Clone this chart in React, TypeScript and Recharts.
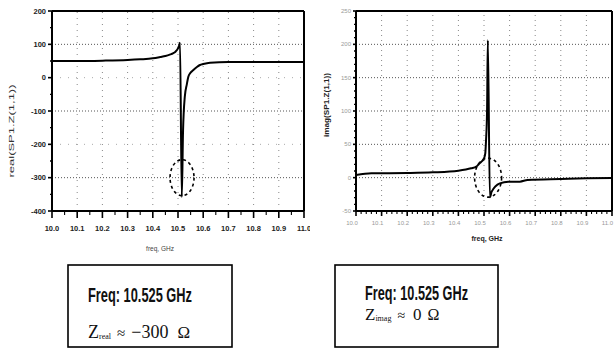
import React from "react";
import { LineChart, Line, XAxis, YAxis, ReferenceLine, ReferenceDot } from "recharts";

// ── Left panel: real(Z) vs frequency ───────────────────────────────────────

const leftFreq = [
  10.0, 10.1, 10.2, 10.3, 10.35, 10.4, 10.43, 10.45, 10.47, 10.48, 10.49, 10.5, 10.505, 10.508,
  10.515, 10.52, 10.527, 10.535, 10.541, 10.55, 10.561, 10.575, 10.587, 10.6, 10.627, 10.7, 10.8,
  10.9, 11.0,
];
const leftReal = [
  50, 50, 51, 53, 55, 58, 62, 65, 70, 73, 78, 88, 97, 105,
  -358, -160, -57, -20, 3, 15, 23, 32, 38, 41, 45, 47, 47,
  47, 47,
];
const leftXMajor = [10.0, 10.1, 10.2, 10.3, 10.4, 10.5, 10.6, 10.7, 10.8, 10.9, 11.0];
const leftYMajor = [-400, -300, -200, -100, 0, 100, 200];

// ── Right panel: imag(Z) vs frequency ──────────────────────────────────────

const rightFreq = [
  10.0, 10.06, 10.2, 10.3, 10.4, 10.45, 10.47, 10.48, 10.49, 10.5, 10.505, 10.508, 10.512, 10.515,
  10.523, 10.53, 10.562, 10.595, 10.64, 10.67, 10.8, 10.9, 11.0,
];
const rightImag = [
  4, 6.5, 7, 8, 10.5, 14, 16.5, 20.5, 24, 29, 36.5, 56.5, 101.5, 206,
  -29.5, -21, -8.5, -6, -6, -3.5, -2, -1, -0.5,
];
const rightXMajor = leftXMajor;
const rightYMajor = [-50, 0, 50, 100, 150, 200, 250];

// ── Marker at the resonance (10.525 GHz) ───────────────────────────────────

const markerFreq = 10.516;
const leftMarkerValue = -300;
const rightMarkerValue = 0;

const leftData = leftFreq.map((f, i) => ({ f, v: leftReal[i] }));
const rightData = rightFreq.map((f, i) => ({ f, v: rightImag[i] }));

// minor tick positions between the labelled ones
const steps = (from: number, to: number, step: number) => {
  const out: number[] = [];
  const n = Math.round((to - from) / step);
  for (let i = 0; i <= n; i++) out.push(+(from + i * step).toFixed(4));
  return out;
};
const isMajor = (majors: number[], v: number) => majors.some((m) => Math.abs(m - v) < 1e-6);

const SANS = "'Liberation Sans', Arial, sans-serif";
const SERIF = "'Liberation Serif', 'Times New Roman', serif";

function makeXTick(
  majors: number[],
  majorLen: number,
  minorLen: number,
  labelY: number,
  labelDx: number,
  color: string,
  size: number,
  weight: string
) {
  return (props: any) => {
    const { x, y, payload } = props;
    const v = payload.value;
    const major = isMajor(majors, v);
    const last = Math.abs(v - majors[majors.length - 1]) < 1e-6;
    return (
      <g>
        <line x1={x} x2={x} y1={y} y2={y + (major ? majorLen : minorLen)} stroke="#000" strokeWidth={major ? 1.6 : 1.1} />
        {major && (
          <text
            x={last && labelDx < 0 ? x + 1 : x + labelDx}
            y={y + labelY}
            textAnchor={last && labelDx < 0 ? "end" : "middle"}
            fontSize={size}
            fontFamily={SANS}
            fontWeight={weight}
            fill={color}
          >
            {v.toFixed(1)}
          </text>
        )}
      </g>
    );
  };
}

function makeYTick(majors: number[], majorLen: number, minorLen: number, color: string, size: number, weight: string) {
  return (props: any) => {
    const { x, y, payload } = props;
    const v = payload.value;
    const major = isMajor(majors, v);
    return (
      <g>
        <line x1={x - (major ? majorLen : minorLen)} x2={x} y1={y} y2={y} stroke="#000" strokeWidth={major ? 1.6 : 1.4} />
        {major && (
          <text x={x - majorLen - 2} y={y + size * 0.35} textAnchor="end" fontSize={size} fontFamily={SANS} fontWeight={weight} fill={color}>
            {v}
          </text>
        )}
      </g>
    );
  };
}

const dashedEllipse = (rx: number, ry: number) => (props: any) => (
  <ellipse cx={props.cx} cy={props.cy} rx={rx} ry={ry} fill="none" stroke="#000" strokeWidth={1.6} strokeDasharray="3 3" />
);

function LeftPanel() {
  return (
    <LineChart width={310} height={260} data={leftData} margin={{ top: 11, right: 6, left: 8, bottom: 19 }}>
      {leftYMajor.slice(1, -1).map((v) => (
        <ReferenceLine key={"h" + v} y={v} stroke={v % 200 === 0 ? "#aaa" : "#555"} strokeDasharray={v % 200 === 0 ? "1 7" : "1 2"} />
      ))}
      {leftXMajor.slice(1, -1).map((v) => (
        <ReferenceLine key={"v" + v} x={v} stroke="#888" strokeDasharray="1 5" />
      ))}
      <ReferenceLine y={200} stroke="#000" strokeWidth={2} />
      <ReferenceLine x={11.0} stroke="#000" strokeWidth={2} />
      <XAxis
        dataKey="f"
        type="number"
        domain={[10, 11]}
        ticks={steps(10, 11, 0.05)}
        interval={0}
        height={30}
        tickSize={0}
        tickMargin={0}
        tickLine={false}
        axisLine={{ stroke: "#000", strokeWidth: 2 }}
        tick={makeXTick(leftXMajor, 7, 4, 20, 0, "#222", 7.5, "bold")}
      />
      <YAxis
        type="number"
        domain={[-400, 200]}
        ticks={steps(-400, 200, 50)}
        interval={0}
        width={44}
        tickSize={0}
        tickMargin={0}
        tickLine={false}
        axisLine={{ stroke: "#000", strokeWidth: 2 }}
        tick={makeYTick(leftYMajor, 4, 2, "#222", 7.5, "bold")}
      />
      <Line type="monotone" dataKey="v" stroke="#000" strokeWidth={2} dot={false} isAnimationActive={false} />
      <ReferenceDot x={markerFreq} y={leftMarkerValue} r={12} shape={dashedEllipse(12, 18)} />
    </LineChart>
  );
}

function RightPanel() {
  return (
    <LineChart width={315} height={260} data={rightData} margin={{ top: 11, right: 3, left: 12, bottom: 19 }}>
      {rightYMajor.slice(1, -1).map((v) => (
        <ReferenceLine key={"h" + v} y={v} stroke="#555" strokeDasharray="1 2" />
      ))}
      {rightXMajor.slice(1, -1).map((v) => (
        <ReferenceLine key={"v" + v} x={v} stroke="#888" strokeDasharray="1 4" />
      ))}
      <ReferenceLine y={250} stroke="#000" strokeWidth={2} />
      <ReferenceLine x={11.0} stroke="#000" strokeWidth={2} />
      <XAxis
        dataKey="f"
        type="number"
        domain={[10, 11]}
        ticks={steps(10, 11, 0.02)}
        interval={0}
        height={30}
        tickSize={0}
        tickMargin={0}
        tickLine={false}
        axisLine={{ stroke: "#000", strokeWidth: 2 }}
        tick={makeXTick(rightXMajor, 5, 3, 14, -4, "#999", 6, "normal")}
      />
      <YAxis
        type="number"
        domain={[-50, 250]}
        ticks={steps(-50, 250, 10)}
        interval={0}
        width={44}
        tickSize={0}
        tickMargin={0}
        tickLine={false}
        axisLine={{ stroke: "#000", strokeWidth: 2 }}
        tick={makeYTick(rightYMajor, 3, 2, "#999", 6, "normal")}
      />
      <Line type="monotone" dataKey="v" stroke="#000" strokeWidth={2} dot={false} isAnimationActive={false} />
      <ReferenceDot x={markerFreq} y={rightMarkerValue} r={13} shape={dashedEllipse(13.5, 19.5)} />
    </LineChart>
  );
}

export default function App() {
  return (
    <div style={{ position: "absolute", left: 0, top: 0, width: 615, height: 349, background: "#fff", overflow: "hidden" }}>
      <div style={{ position: "absolute", left: 0, top: 0 }}>
        <LeftPanel />
      </div>
      <div style={{ position: "absolute", left: 300, top: 0 }}>
        <RightPanel />
      </div>
      <svg width={615} height={349} style={{ position: "absolute", left: 0, top: 0, pointerEvents: "none" }}>
        {/* axis titles */}
        <text x={0} y={0} transform="translate(14,131) rotate(-90)" textAnchor="middle" fontSize={8} fontFamily={SANS} fill="#333" textLength={93} lengthAdjust="spacingAndGlyphs">
          real(SP1.Z(1,1))
        </text>
        <text x={160} y={251} textAnchor="middle" fontSize={6.5} fontFamily={SANS} fill="#444">freq, GHz</text>
        <text x={0} y={0} transform="translate(329,105) rotate(-90)" textAnchor="middle" fontSize={7} fontFamily={SANS} fontWeight="bold" fill="#222" textLength={64} lengthAdjust="spacingAndGlyphs">
          imag(SP1.Z(1,1))
        </text>
        <text x={487} y={241} textAnchor="middle" fontSize={7} fontFamily={SANS} fontWeight="bold" fill="#222">freq, GHz</text>

        {/* annotation boxes */}
        <rect x={68} y={265} width={164} height={82} fill="#fff" stroke="#000" strokeWidth={1.6} />
        <text x={88} y={302} fontSize={21} fontFamily={SANS} fontWeight="bold" fill="#111" textLength={104} lengthAdjust="spacingAndGlyphs">
          Freq: 10.525 GHz
        </text>
        <text x={88} y={338} fontSize={18} fontFamily={SERIF} fill="#111">
          Z<tspan fontSize={8} dy={1}>real</tspan>
          <tspan fontSize={15} dy={-1} dx={6}>≈</tspan>
          <tspan fontSize={18} dx={6}>−300</tspan>
          <tspan fontSize={17} dx={9}>Ω</tspan>
        </text>

        <rect x={335} y={265} width={163} height={82} fill="#fff" stroke="#000" strokeWidth={1.6} />
        <text x={365} y={300} fontSize={21} fontFamily={SANS} fontWeight="bold" fill="#111" textLength={103} lengthAdjust="spacingAndGlyphs">
          Freq: 10.525 GHz
        </text>
        <text x={365} y={320} fontSize={17} fontFamily={SERIF} fill="#111">
          Z<tspan fontSize={8} dy={1}>imag</tspan>
          <tspan fontSize={14} dy={-1} dx={6}>≈</tspan>
          <tspan fontSize={17} dx={8}>0</tspan>
          <tspan fontSize={16} dx={6}>Ω</tspan>
        </text>
      </svg>
    </div>
  );
}
